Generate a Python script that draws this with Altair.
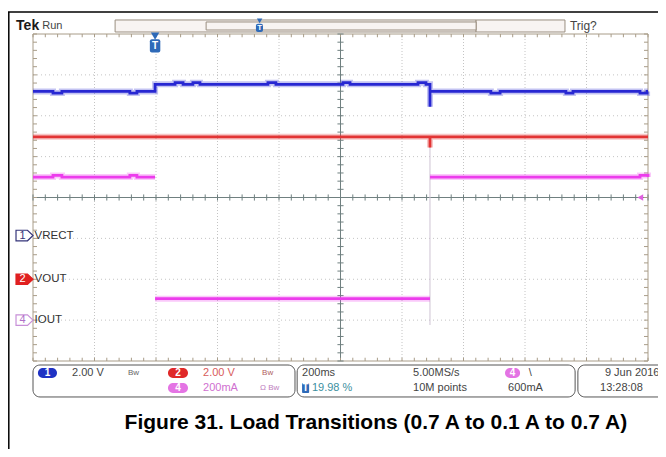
import altair as alt
import numpy as np
import pandas as pd

# ---------------- acquisition data ----------------
# horizontal: time in ms (200 ms/div, 10 div); vertical: graticule divisions
T_FALL = -603      # ms, IOUT 0.7 A -> 0.1 A (trigger point)
T_RISE = 291       # ms, IOUT 0.1 A -> 0.7 A

CH_NAMES = ["VRECT", "VOUT", "IOUT"]
CH_POS = {"VRECT": -0.93, "VOUT": -2.0, "IOUT": -3.0}      # channel offsets (div)
CH_SCALE = {"VRECT": 2.0, "VOUT": 2.0, "IOUT": 200.0}      # V/div, V/div, mA/div
CH_COLOR = {"VRECT": "#2727d2", "VOUT": "#e23434", "IOUT": "#ec3cec"}

VRECT_LEVELS = [7.05, 7.40, 7.05]   # V
VRECT_SPIKE = 6.30
VOUT_LEVEL = 6.97
VOUT_SPIKE = 6.45
IOUT_LEVELS = [700, 105, 700]       # mA

# small ripple bumps (start ms, end ms, delta)
VRECT_BUMPS = [(-935, -906, -0.08), (-685, -662, -0.08), (-538, -512, 0.08),
               (-480, -457, 0.08), (-236, -210, 0.08), (8, 31, 0.08),
               (252, 278, 0.08), (489, 519, -0.08), (733, 756, -0.08),
               (974, 997, -0.08)]
IOUT_BUMPS = [(-935, -906, 8), (-685, -662, 8), (974, 1000, 8)]

FONT = "Liberation Sans"
XS = alt.Scale(domain=[-1000, 1000], nice=False, zero=False)
YS = alt.Scale(domain=[-4, 4], nice=False, zero=False)


def X(f):
    return alt.X(f"{f}:Q", scale=XS, axis=None)


def Y(f):
    return alt.Y(f"{f}:Q", scale=YS, axis=None)


def pts(segments, bumps):
    out = []
    for (a, b, v) in segments:
        out.append((a, v))
        for (s, e, d) in bumps:
            if a < s < b:
                e = min(e, b)
                out += [(s, v), (s, v + d), (e, v + d), (e, v)]
        out.append((b, v))
    return out


rows = []


def add(series, name, p):
    for i, (t, v) in enumerate(p):
        rows.append(dict(series=series, i=i, t=t,
                         y=CH_POS[name] + v / CH_SCALE[name],
                         color=CH_COLOR[name]))


add("VRECT", "VRECT",
    pts([(-1000, T_FALL, VRECT_LEVELS[0])], VRECT_BUMPS)
    + pts([(T_FALL, T_RISE, VRECT_LEVELS[1])], VRECT_BUMPS)
    + [(T_RISE, VRECT_SPIKE)]
    + pts([(T_RISE, 1000, VRECT_LEVELS[2])], VRECT_BUMPS))
add("VOUT", "VOUT",
    pts([(-1000, T_RISE, VOUT_LEVEL)], []) + [(T_RISE, VOUT_SPIKE)]
    + pts([(T_RISE, 1000, VOUT_LEVEL)], []))
add("IOUT_a", "IOUT", pts([(-1000, T_FALL, IOUT_LEVELS[0])], IOUT_BUMPS))
add("IOUT_b", "IOUT", pts([(T_FALL, T_RISE, IOUT_LEVELS[1])], IOUT_BUMPS))
add("IOUT_c", "IOUT", pts([(T_RISE, 1000, IOUT_LEVELS[2])], IOUT_BUMPS))
traces = pd.DataFrame(rows)

dummy = pd.DataFrame({"a": [0]})

# ---------------- frame ----------------
frame_top = alt.Chart(dummy).mark_rule(color="black", strokeWidth=1.5).encode(
    x=alt.value(-25), x2=alt.value(625), y=alt.value(-22))
frame_left = alt.Chart(dummy).mark_rule(color="black", strokeWidth=1.5).encode(
    x=alt.value(-24.2), y=alt.value(-22), y2=alt.value(415))

# ---------------- graticule ----------------
GRID_T = [-800, -600, -400, -200, 200, 400, 600, 800]
GRID_Y = [-3, -2, -1, 1, 2, 3]
vgrid = alt.Chart(pd.DataFrame({"t": GRID_T, "y": -4, "y2": 4})).mark_rule(
    color="#c4c4c4", strokeDash=[1, 2], strokeWidth=1).encode(x=X("t"), y=Y("y"), y2="y2:Q")
hgrid = alt.Chart(pd.DataFrame({"y": GRID_Y, "t": -1000, "t2": 1000})).mark_rule(
    color="#c4c4c4", strokeDash=[1, 3], strokeWidth=1).encode(y=Y("y"), x=X("t"), x2="t2:Q")
caxes = alt.Chart(pd.DataFrame({"t": [-1000, 0], "t2": [1000, 0], "y": [0, -4], "y2": [0, 4]})).mark_rule(
    color="#708080", strokeWidth=1).encode(x=X("t"), x2="t2:Q", y=Y("y"), y2="y2:Q")

mt = np.arange(-1000, 1001, 40)
my = np.round(np.arange(-4, 4.001, 0.2), 3)
tick_rows = []
for t in mt:
    tick_rows.append(dict(t=t, t2=t, y=-0.075, y2=0.075, c="#708080"))
    tick_rows.append(dict(t=t, t2=t, y=-4, y2=-3.92, c="#a89c88"))
    tick_rows.append(dict(t=t, t2=t, y=4, y2=3.92, c="#a89c88"))
for y in my:
    tick_rows.append(dict(t=-10, t2=10, y=y, y2=y, c="#708080"))
    tick_rows.append(dict(t=-1000, t2=-987, y=y, y2=y, c="#a89c88"))
    tick_rows.append(dict(t=1000, t2=987, y=y, y2=y, c="#a89c88"))
ticks = alt.Chart(pd.DataFrame(tick_rows)).mark_rule(strokeWidth=1).encode(
    x=X("t"), x2="t2:Q", y=Y("y"), y2="y2:Q", color=alt.Color("c:N", scale=None))
border = alt.Chart(pd.DataFrame({"t": [-1000], "t2": [1000], "y": [-4], "y2": [4]})).mark_rect(
    fillOpacity=0, stroke="#a89c88", strokeWidth=1).encode(x=X("t"), x2="t2:Q", y=Y("y"), y2="y2:Q")

# ---------------- traces ----------------
faint = alt.Chart(pd.DataFrame({"t": [T_RISE], "y": [1.41], "y2": [-3.12]})).mark_rule(
    color="#cfc3d3", strokeWidth=1).encode(x=X("t"), y=Y("y"), y2="y2:Q")
halo = alt.Chart(traces).mark_line(strokeWidth=6, opacity=0.28, interpolate="linear").encode(
    x=X("t"), y=Y("y"), detail="series:N", order="i:Q", color=alt.Color("color:N", scale=None))
core = alt.Chart(traces).mark_line(strokeWidth=2.8, interpolate="linear").encode(
    x=X("t"), y=Y("y"), detail="series:N", order="i:Q", color=alt.Color("color:N", scale=None))

# ---------------- markers ----------------
PENT = "M -1 -0.62 L 0.35 -0.62 L 1 0 L 0.35 0.62 L -1 0.62 Z"
mk = pd.DataFrame({
    "t": [-1027.6] * 3,
    "y": [CH_POS[n] for n in CH_NAMES],
    "fill": ["#ffffff", "#e02020", "#ffffff"],
    "stroke": ["#35357a", "#e02020", "#c890d8"],
    "num": ["1", "2", "4"],
    "ncol": ["#35357a", "#ffffff", "#b070c8"],
    "label": CH_NAMES,
})
pent = alt.Chart(mk).mark_point(shape=PENT, size=289, filled=True, strokeWidth=1.2, opacity=1).encode(
    x=X("t"), y=Y("y"), fill=alt.Fill("fill:N", scale=None), stroke=alt.Stroke("stroke:N", scale=None))
pent_num = alt.Chart(mk).mark_text(font=FONT, fontSize=11, align="center", baseline="middle", dx=-2).encode(
    x=X("t"), y=Y("y"), text="num:N", color=alt.Color("ncol:N", scale=None))
pent_lab = alt.Chart(mk).mark_text(font=FONT, fontSize=11.5, align="left", baseline="middle", dx=10,
                                   color="#333333").encode(
    x=X("t"), y=Y("y"), text="label:N")

trig_lvl = alt.Chart(pd.DataFrame({"t": [975], "y": [0]})).mark_point(
    shape="triangle-left", size=45, filled=True, color="#e060e0", opacity=1).encode(x=X("t"), y=Y("y"))

# trigger "T" markers (screen top and record bar)
tm = pd.DataFrame({"t": [T_FALL, -263], "ytri": [3.95, 4.32], "sz": [70, 30],
                   "t0": [T_FALL - 17, -275], "t1": [T_FALL + 17, -252],
                   "y0": [3.87, 4.25], "y1": [3.55, 4.05], "yt": [3.71, 4.15], "fs": [10, 8]})
tri = alt.Chart(tm).mark_point(shape="triangle-down", filled=True, color="#2e6ab8", opacity=1).encode(
    x=X("t"), y=Y("ytri"), size=alt.Size("sz:Q", scale=None))
tbody = alt.Chart(tm).mark_rect(cornerRadius=2, color="#2e6ab8").encode(
    x=X("t0"), x2="t1:Q", y=Y("y0"), y2="y1:Q")
ttext = alt.Chart(tm).mark_text(font=FONT, fontWeight="bold", color="white", baseline="middle").encode(
    x=X("t"), y=Y("yt"), text=alt.value("T"), size=alt.Size("fs:Q", scale=None))

# ---------------- top bar ----------------
bars = pd.DataFrame({"t0": [-733, 441, -437], "t1": [441, 730, 441],
                     "y0": [4.343, 4.343, 4.294], "y1": [4.049, 4.049, 4.098],
                     "f": ["#f8f4f2", "#f8f4f2", "#f8f4f2"]})
topbars = alt.Chart(bars).mark_rect(stroke="#9a8f80", strokeWidth=1).encode(
    x=X("t0"), x2="t1:Q", y=Y("y0"), y2="y1:Q", fill=alt.Fill("f:N", scale=None))
tek = alt.Chart(pd.DataFrame({"t": [-1055], "y": [4.2], "text": ["Tek"]})).mark_text(
    font=FONT, fontSize=14, fontWeight="bold", align="left", baseline="middle", color="#1a1a1a").encode(
    x=X("t"), y=Y("y"), text="text:N")
toptxt = alt.Chart(pd.DataFrame({"t": [-970, 746], "y": [4.2, 4.2], "text": ["Run", "Trig?"],
                                 "fs": [11, 12]})).mark_text(
    font=FONT, align="left", baseline="middle", color="#444444").encode(
    x=X("t"), y=Y("y"), text="text:N", size=alt.Size("fs:Q", scale=None))

# ---------------- status bar ----------------
R1, R2 = -4.294, -4.66
boxes = pd.DataFrame({"t0": [-1000, -141, 772], "t1": [-148, 763, 1110]})
statbox = alt.Chart(boxes).mark_rect(cornerRadius=7, fillOpacity=0, stroke="#555555", strokeWidth=1).encode(
    x=X("t0"), x2="t1:Q", y=alt.Y("ya:Q", scale=YS, axis=None), y2="yb:Q").transform_calculate(
    ya="-4.098", yb="-4.88")
pills = pd.DataFrame({"t0": [-984, -561, -561, 535, -125], "t1": [-922, -496, -496, 584, -102],
                      "y": [R1, R1, R2, R1, R2],
                      "fill": ["#1f32c4", "#e02828", "#e474e4", "#e474e4", "#2e6ab8"],
                      "txt": ["1", "2", "4", "4", "T"], "r": [5, 5, 5, 5, 1]})
pills["y0"] = pills["y"] + 0.12
pills["y1"] = pills["y"] - 0.12
pills["tc"] = (pills["t0"] + pills["t1"]) / 2
pill_rect = alt.Chart(pills[pills.r == 5]).mark_rect(cornerRadius=5).encode(
    x=X("t0"), x2="t1:Q", y=Y("y0"), y2="y1:Q", fill=alt.Fill("fill:N", scale=None))
t_icon = alt.Chart(pills[pills.r == 1]).mark_rect(cornerRadius=1).encode(
    x=X("t0"), x2="t1:Q", y=Y("y0"), y2="y1:Q", fill=alt.Fill("fill:N", scale=None))
pill_txt = alt.Chart(pills).mark_text(font=FONT, fontSize=10, fontWeight="bold", color="white",
                                       baseline="middle", align="center").encode(
    x=X("tc"), y=Y("y"), text="txt:N")

stat = pd.DataFrame([
    (-873, R1, "2.00 V", "#444444", 11),
    (-691, R1, "Bw", "#666666", 8),
    (-447, R1, "2.00 V", "#d85a5a", 11),
    (-255, R1, "Bw", "#b06060", 8),
    (-447, R2, "200mA", "#d070d0", 11),
    (-262, R2, "Ω Bw", "#c080c0", 8),
    (-125, R1, "200ms", "#444444", 11),
    (-93, R2, "19.98 %", "#3c8fa0", 11),
    (236, R1, "5.00MS/s", "#444444", 11),
    (236, R2, "10M points", "#444444", 11),
    (612, R1, "\\", "#444444", 11),
    (545, R2, "600mA", "#444444", 11),
    (860, R1, "9 Jun  2016", "#444444", 11),
    (844, R2, "13:28:08", "#444444", 11),
], columns=["t", "y", "text", "c", "fs"])
stat_txt = alt.Chart(stat).mark_text(font=FONT, align="left", baseline="middle").encode(
    x=X("t"), y=Y("y"), text="text:N", color=alt.Color("c:N", scale=None), size=alt.Size("fs:Q", scale=None))

caption = alt.Chart(pd.DataFrame({"t": [115], "y": [-5.52],
                                  "text": ["Figure 31. Load Transitions (0.7 A to 0.1 A to 0.7 A)"]})).mark_text(
    font=FONT, fontSize=21, fontWeight="bold", align="center", baseline="middle", color="black").encode(
    x=X("t"), y=Y("y"), text="text:N")

chart = alt.layer(
    frame_top, frame_left,
    vgrid, hgrid, border, caxes, ticks,
    faint, halo, core,
    pent, pent_num, pent_lab, trig_lvl,
    topbars, tri, tbody, ttext, tek, toptxt,
    statbox, pill_rect, t_icon, pill_txt, stat_txt,
    caption,
).properties(
    width=615, height=327,
    autosize=alt.AutoSizeParams(type="none"),
    padding={"left": 25, "top": 26, "right": 10, "bottom": 88},
).configure_view(stroke=None)

chart.save("out.html", embed_options={"renderer": "svg", "actions": False})
